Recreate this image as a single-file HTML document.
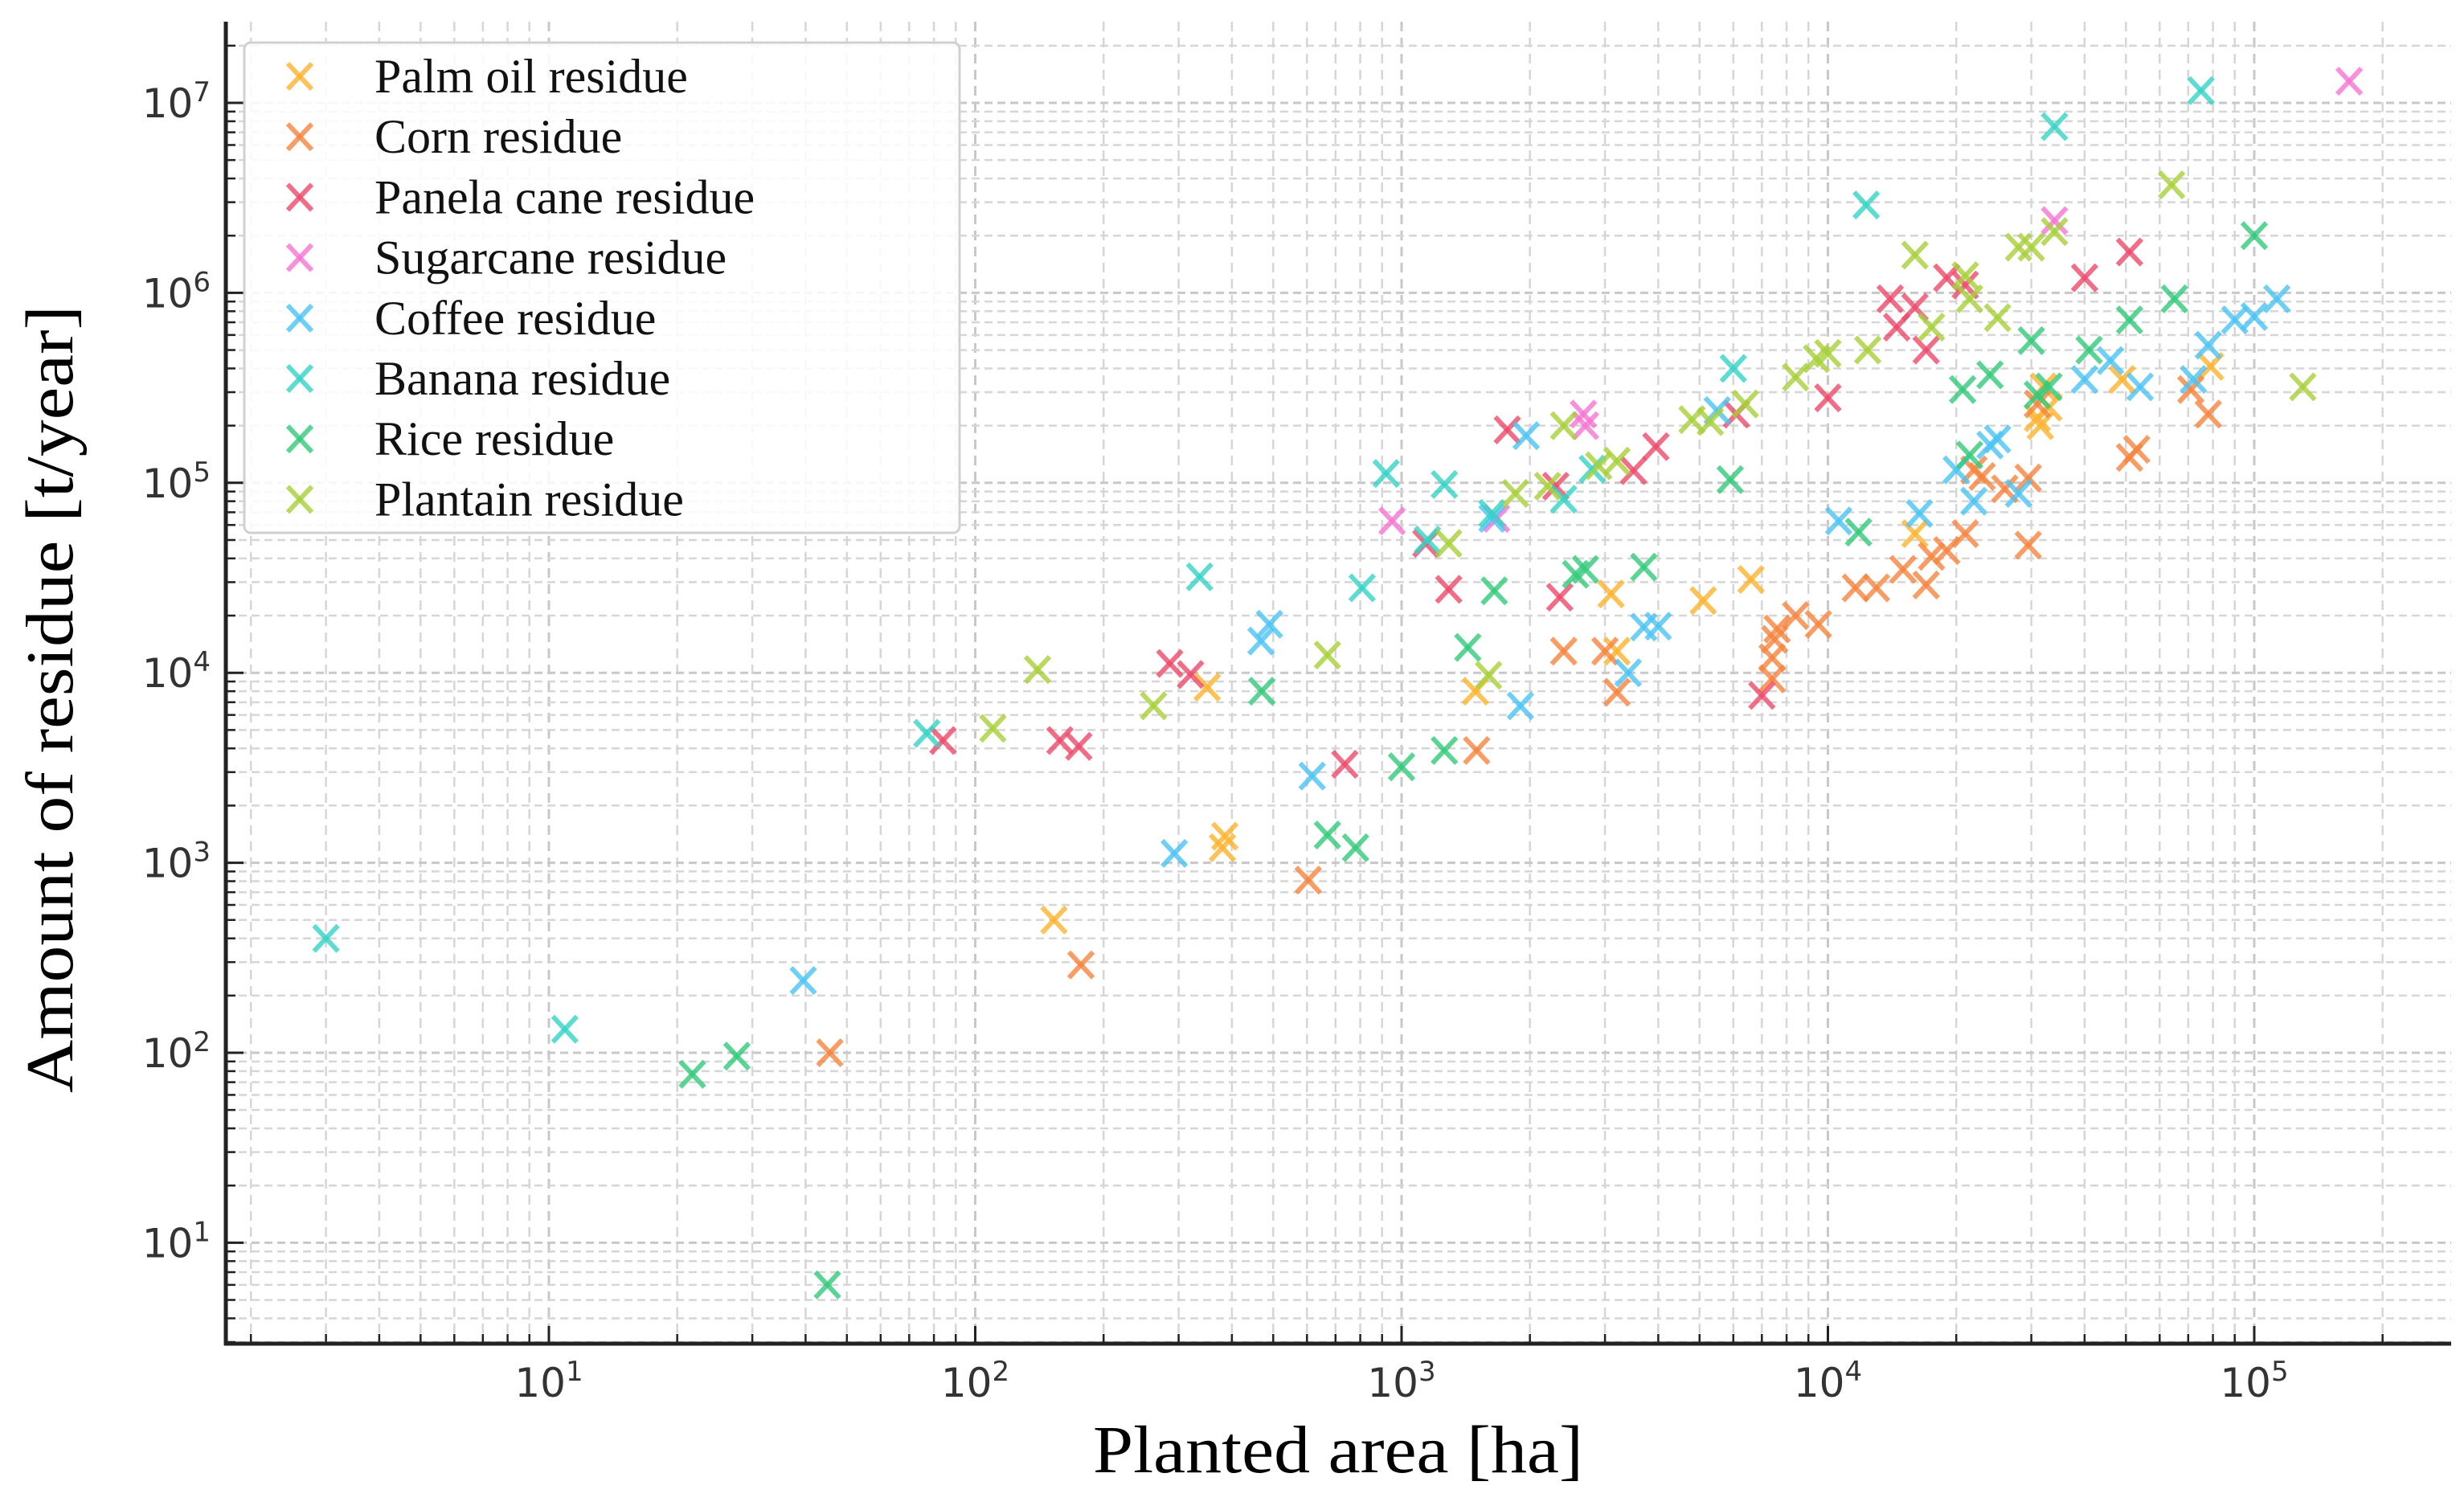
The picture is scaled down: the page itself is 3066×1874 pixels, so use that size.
<!DOCTYPE html>
<html><head><meta charset="utf-8"><style>
html,body{margin:0;padding:0;background:#fff;}
svg{display:block;}
</style></head><body>
<svg id="chart" width="3066" height="1874" viewBox="0 0 3066 1874" xmlns="http://www.w3.org/2000/svg">
<g id="grid"></g>
<g id="marks"></g>
<g id="axes"></g>
<g id="legend"></g>
<text x="1665" y="1832" text-anchor="middle" font-family="Liberation Serif, serif" font-size="84" textLength="610" lengthAdjust="spacingAndGlyphs">Planted area [ha]</text>
<text transform="translate(90,870) rotate(-90)" text-anchor="middle" font-family="Liberation Serif, serif" font-size="84" textLength="980" lengthAdjust="spacingAndGlyphs">Amount of residue [t/year]</text>
</svg>
<script>
const seriesNames = ["Palm oil residue","Corn residue","Panela cane residue","Sugarcane residue","Coffee residue","Banana residue","Rice residue","Plantain residue"];
const seriesColors = ["#fdb42f","#f5853f","#ee4a6a","#f674d3","#4cc3f2","#36d3c6","#33c97a","#a8cf3a"];
const palmX = [153,385,380,350,1490,3100,3200,5100,6600,16000,31000,33000,31500,49000,79000,32000];
const palmY = [500,1380,1200,8400,8000,26000,13000,24000,31000,54000,220000,250000,200000,350000,410000,320000];
const cornX = [45.6,177,604,1500,2400,3000,3200,7400,7400,7500,7600,8400,9500,11600,13000,15000,17000,17500,19000,21000,22000,23000,26000,29500,29500,51000,53000,71000,78000,31000];
const cornY = [100,290,810,3900,13000,13000,7900,9300,12000,15000,17000,20000,18000,28000,28000,35000,29000,41000,44000,54000,117000,108000,93000,106000,47000,136000,150000,310000,230000,260000];
const panelaX = [84,158,175,286,320,736,1290,1140,1770,2350,2300,3500,3950,6100,7000,10000,14000,14500,16000,17000,19000,40000,51000,21000];
const panelaY = [4400,4400,4100,11200,9800,3300,27500,48000,190000,25000,96000,116000,155000,230000,7600,280000,930000,660000,840000,500000,1200000,1200000,1640000,1100000];
const sugarX = [950,2670,2700,34000,167000,1670];
const sugarY = [63000,230000,200000,2400000,13000000,65000];
const coffeeX = [39.5,293,468,490,617,1630,1900,1960,3400,3700,4000,5500,10600,16400,20000,22000,24000,25000,28000,40000,46000,54000,72000,78000,90000,100000,113000];
const coffeeY = [240,1120,14700,18000,2860,65000,6700,177000,10000,17400,17600,240000,63000,69000,117000,80000,158000,170000,88000,350000,440000,320000,350000,530000,720000,750000,930000];
const bananaX = [3,10.9,77,336,808,920,1260,1630,2400,2800,6000,12300,34000,75000,1150];
const bananaY = [400,133,4800,32000,28000,112000,98000,69000,82000,118000,400000,2900000,7500000,11600000,50000];
const riceX = [21.7,27.6,45,470,670,780,1000,1260,1430,1650,2560,2700,3700,5900,11800,20700,21500,24000,30000,33000,41000,51000,65000,100000,31000];
const riceY = [77,96,6,8000,1400,1200,3200,3900,13600,27000,33000,35000,36000,104000,55000,310000,140000,370000,560000,320000,500000,720000,930000,2000000,290000];
const plantainX = [110,140,262,670,1290,1600,1850,2200,2400,2900,3200,4800,5300,6400,8400,9400,10000,12400,16000,17500,21000,21500,25000,28000,30000,34000,64000,130000];
const plantainY = [5100,10400,6700,12400,48000,9700,88000,96000,200000,123000,130000,215000,210000,260000,360000,450000,480000,500000,1580000,660000,1230000,930000,740000,1740000,1740000,2100000,3700000,320000];
const xTickLabels = ["1","2","3","4","5"];
const yTickLabels = ["1","2","3","4","5","6","7"];

const seriesX = [palmX,cornX,panelaX,sugarX,coffeeX,bananaX,riceX,plantainX];
const seriesY = [palmY,cornY,panelaY,sugarY,coffeeY,bananaY,riceY,plantainY];

const NS = "http://www.w3.org/2000/svg";
const L = 281, R = 3050, T = 27, B = 1672;
const X10 = 683, XD = 530.5, Y7 = 128, YD = 236.4;
function xs(v){ return X10 + (Math.log10(v) - 1) * XD; }
function ys(v){ return Y7 + (7 - Math.log10(v)) * YD; }
function mk(tag, attrs, parent){ const e = document.createElementNS(NS, tag); for (const k in attrs) e.setAttribute(k, attrs[k]); parent.appendChild(e); return e; }

const grid = document.getElementById('grid');
const axes = document.getElementById('axes');
// vertical grid
for (let d = 0; d <= 5; d++) {
  for (let m = 1; m <= 9; m++) {
    const v = m * Math.pow(10, d);
    const x = xs(v);
    if (x < L || x > R) continue;
    const gl = mk('line', {x1:x, x2:x, y1:T, y2:B, stroke: m===1?'#c8c8c8':'#d6d6d6', 'stroke-width': m===1?3:2.5, 'stroke-dasharray':'12 8'}, grid);
    
    
    const tk = mk('line', {x1:x, x2:x, y1:B, y2:B-(m===1?22:12), stroke:'#222', 'stroke-width':m===1?3:2.5}, axes);
    
    
  }
}
// horizontal grid
for (let d = 0; d <= 7; d++) {
  for (let m = 1; m <= 9; m++) {
    const v = m * Math.pow(10, d);
    const y = ys(v);
    if (y < T || y > B) continue;
    const gl = mk('line', {x1:L, x2:R, y1:y, y2:y, stroke: m===1?'#c8c8c8':'#d6d6d6', 'stroke-width': m===1?3:2.5, 'stroke-dasharray':'10 6'}, grid);
    
    
    const tk = mk('line', {x1:L, x2:L+(m===1?22:12), y1:y, y2:y, stroke:'#222', 'stroke-width':m===1?3:2.5}, axes);
    
    
  }
}
// spines
const sp1 = mk('line', {x1:L, x2:L, y1:T, y2:B+2, stroke:'#222', 'stroke-width':5}, axes);


const sp2 = mk('line', {x1:L-2, x2:R, y1:B, y2:B, stroke:'#222', 'stroke-width':5}, axes);


// tick labels
xTickLabels.forEach(e => {
  const x = xs(Math.pow(10, +e));
  const t = mk('text', {x:x, y:1738, 'text-anchor':'middle', 'font-family':'DejaVu Sans, sans-serif', 'font-size':50, fill:'#333'}, axes);
  
  
  t.textContent = '10';
  const s = mk('tspan', {dy:-20, 'font-size':34}, t); s.textContent = e;
});
yTickLabels.forEach(e => {
  const y = ys(Math.pow(10, +e));
  const t = mk('text', {x:262, y:y+18, 'text-anchor':'end', 'font-family':'DejaVu Sans, sans-serif', 'font-size':50, fill:'#333'}, axes);
  
  
  t.textContent = '10';
  const s = mk('tspan', {dy:-20, 'font-size':34}, t); s.textContent = e;
});
// marks
const marks = document.getElementById('marks');
function cross(cx, cy, color, parent){
  const g = mk('g', {stroke:color, 'stroke-width':6, 'stroke-opacity':0.8, 'stroke-linecap':'butt'}, parent);
  mk('line', {x1:cx-15, y1:cy-16, x2:cx+15, y2:cy+16}, g);
  mk('line', {x1:cx-15, y1:cy+16, x2:cx+15, y2:cy-16}, g);
  return g;
}
seriesX.forEach((xsArr, si) => {
  const sg = mk('g', {}, marks);
  
  
  xsArr.forEach((xv, i) => {
    const p = cross(xs(xv), ys(seriesY[si][i]), seriesColors[si], sg);
    
    
  });
});
// legend
const lg = document.getElementById('legend');
const box = mk('rect', {x:304, y:53, width:890, height:610, rx:8, fill:'#fff', 'fill-opacity':0.85, stroke:'#d0d0d0', 'stroke-width':3}, lg);


seriesNames.forEach((n, i) => {
  const y = 95 + i * 75.2;
  const eg = mk('g', {}, lg);
  
  
  cross(373, y, seriesColors[i], eg);
  const t = mk('text', {x:466, y:y+20, 'font-family':'Liberation Serif, serif', 'font-size':60, fill:'#111'}, eg);
  t.textContent = n;
});
</script>
</body></html>
